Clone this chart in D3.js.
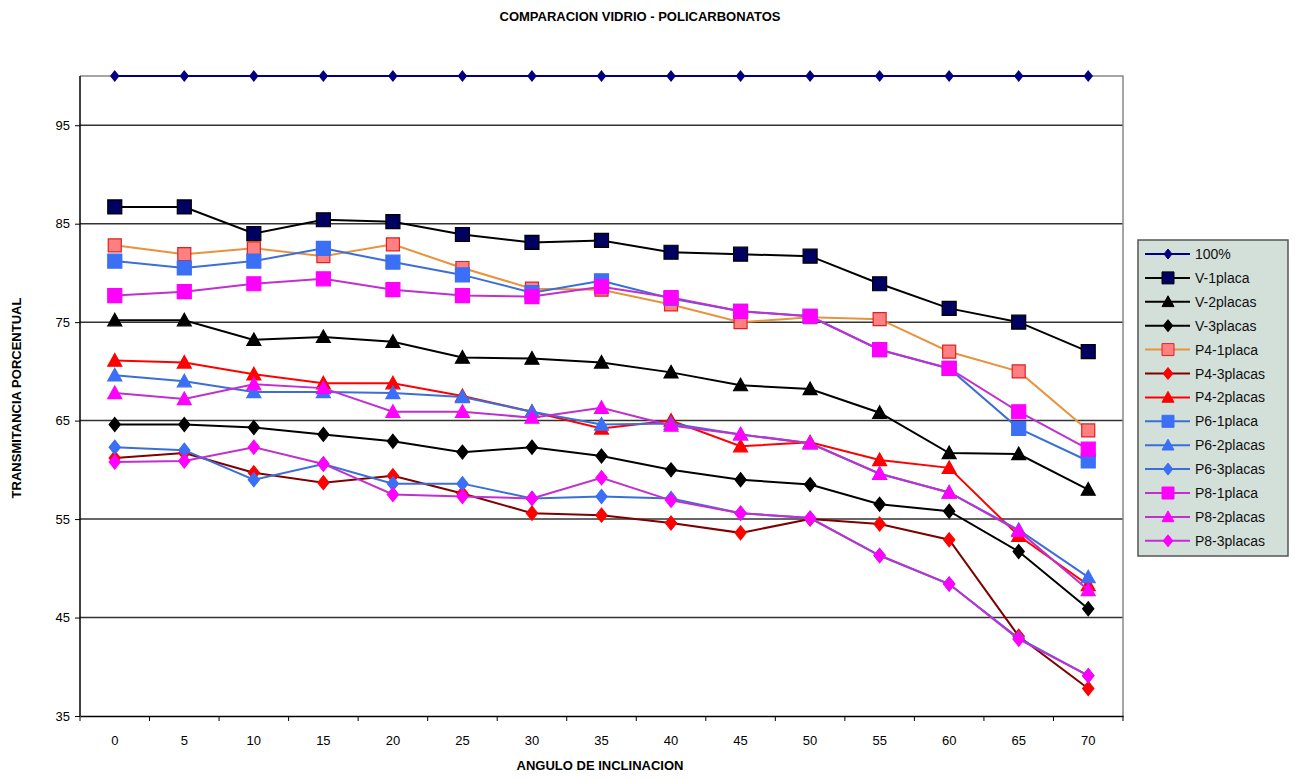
<!DOCTYPE html>
<html>
<head>
<meta charset="utf-8">
<script src="https://cdn.jsdelivr.net/npm/d3@7"></script>
<style>
  body { margin: 0; background: #fff; }
  text { font-family: "Liberation Sans", Arial, sans-serif; }
</style>
</head>
<body>
<script>
  // Angles (x categories)
  const angles = [0, 5, 10, 15, 20, 25, 30, 35, 40, 45, 50, 55, 60, 65, 70];
  const yTicks = [35, 45, 55, 65, 75, 85, 95];

  // Series values
  const s100 = [100, 100, 100, 100, 100, 100, 100, 100, 100, 100, 100, 100, 100, 100, 100];
  const v1 = [86.7, 86.7, 84.0, 85.4, 85.2, 83.9, 83.1, 83.3, 82.1, 81.9, 81.7, 78.9, 76.4, 75.0, 72.0];
  const v2 = [75.2, 75.2, 73.2, 73.5, 73.0, 71.4, 71.3, 70.9, 69.9, 68.6, 68.2, 65.8, 61.7, 61.6, 58.0];
  const v3 = [64.6, 64.6, 64.3, 63.6, 62.9, 61.8, 62.3, 61.4, 60.0, 59.0, 58.5, 56.5, 55.8, 51.7, 45.9];
  const p41 = [82.8, 81.9, 82.5, 81.7, 82.9, 80.5, 78.4, 78.3, 76.8, 75.0, 75.5, 75.3, 72.0, 70.0, 64.0];
  const p43 = [61.2, 61.7, 59.7, 58.7, 59.4, 57.6, 55.6, 55.4, 54.6, 53.6, 55.0, 54.5, 52.9, 43.1, 37.8];
  const p42 = [71.1, 70.9, 69.7, 68.8, 68.8, 67.5, 65.9, 64.2, 65.0, 62.4, 62.8, 61.0, 60.2, 53.3, 48.3];
  const p61 = [81.2, 80.5, 81.2, 82.5, 81.1, 79.8, 78.0, 79.2, 77.4, 76.1, 75.6, 72.2, 70.3, 64.2, 60.9];
  const p62 = [69.6, 69.0, 67.9, 67.9, 67.8, 67.4, 65.9, 64.6, 64.7, 63.6, 62.7, 59.6, 57.7, 53.9, 49.1];
  const p63 = [62.3, 62.0, 59.0, 60.6, 58.6, 58.6, 57.1, 57.3, 57.1, 55.6, 55.1, 51.3, 48.4, 42.9, 39.1];
  const p81 = [77.7, 78.1, 78.9, 79.4, 78.3, 77.7, 77.6, 78.6, 77.5, 76.1, 75.6, 72.2, 70.3, 65.9, 62.1];
  const p82 = [67.8, 67.2, 68.7, 68.3, 65.9, 65.9, 65.3, 66.3, 64.5, 63.6, 62.7, 59.6, 57.7, 53.8, 47.8];
  const p83 = [60.8, 60.9, 62.3, 60.6, 57.5, 57.3, 57.1, 59.2, 56.9, 55.6, 55.1, 51.3, 48.4, 42.8, 39.1];

  const series = [
    { name: "100%", values: s100, line: "#000080", fill: "#000080", stroke: "#000080", shape: "diamond", size: 10 },
    { name: "V-1placa", values: v1, line: "#000000", fill: "#000060", stroke: "#000000", shape: "square", size: 14 },
    { name: "V-2placas", values: v2, line: "#000000", fill: "#000000", stroke: "#000000", shape: "triangle", size: 14 },
    { name: "V-3placas", values: v3, line: "#000000", fill: "#000000", stroke: "#000000", shape: "diamond", size: 14 },
    { name: "P4-1placa", values: p41, line: "#e8923c", fill: "#ff8080", stroke: "#e02020", shape: "square", size: 13 },
    { name: "P4-3placas", values: p43, line: "#800000", fill: "#ff0000", stroke: "#ff0000", shape: "diamond", size: 14 },
    { name: "P4-2placas", values: p42, line: "#ff0000", fill: "#ff0000", stroke: "#ff0000", shape: "triangle", size: 14 },
    { name: "P6-1placa", values: p61, line: "#3a6fd8", fill: "#3b6ff5", stroke: "#3b6ff5", shape: "square", size: 14 },
    { name: "P6-2placas", values: p62, line: "#3a6fd8", fill: "#3b6ff5", stroke: "#3b6ff5", shape: "triangle", size: 14 },
    { name: "P6-3placas", values: p63, line: "#3a6fd8", fill: "#3b6ff5", stroke: "#3b6ff5", shape: "diamond", size: 14 },
    { name: "P8-1placa", values: p81, line: "#c030d0", fill: "#ff00ff", stroke: "#ff00ff", shape: "square", size: 14 },
    { name: "P8-2placas", values: p82, line: "#c030d0", fill: "#ff00ff", stroke: "#ff00ff", shape: "triangle", size: 14 },
    { name: "P8-3placas", values: p83, line: "#c030d0", fill: "#ff00ff", stroke: "#ff00ff", shape: "diamond", size: 14 },
  ];

  const width = 1295, height = 778;
  const margin = { left: 80, right: 172, top: 76, bottom: 62 };

  const svg = d3.select("body").append("svg")
    .attr("width", width)
    .attr("height", height);

  const x = d3.scaleBand()
    .domain(angles)
    .range([margin.left, width - margin.right])
    .padding(0);

  const y = d3.scaleLinear()
    .domain([35, 100])
    .range([height - margin.bottom, margin.top]);

  // Gridlines
  svg.append("g").selectAll("line")
    .data(yTicks.slice(1))
    .enter().append("line")
    .attr("x1", margin.left).attr("x2", width - margin.right)
    .attr("y1", d => y(d)).attr("y2", d => y(d))
    .attr("stroke", "#333").attr("stroke-width", 1.5);

  // Plot border (top + right)
  svg.append("path")
    .attr("d", `M${margin.left},${y(100)}H${width - margin.right}V${y(35)}`)
    .attr("fill", "none").attr("stroke", "#888").attr("stroke-width", 1.5);

  // Y axis
  const yAxis = svg.append("g")
    .attr("transform", `translate(${margin.left},0)`)
    .call(d3.axisLeft(y).tickValues(yTicks).tickSize(5).tickSizeOuter(0));
  yAxis.select(".domain").attr("stroke", "#000").attr("stroke-width", 1.5)
    .attr("d", `M0,${y(100)}V${y(35)}`);
  yAxis.selectAll(".tick line").attr("stroke", "#000");
  yAxis.selectAll("text").attr("font-size", 13).attr("x", -10).attr("fill", "#000");

  // X axis, ticks between categories
  const xAxis = svg.append("g")
    .attr("transform", `translate(0,${y(35)})`)
    .call(d3.axisBottom(x).tickSize(0).tickPadding(20));
  xAxis.select(".domain").attr("stroke", "#000").attr("stroke-width", 1.5);
  xAxis.selectAll("text").attr("font-size", 13).attr("fill", "#000");
  xAxis.selectAll("line.sep")
    .data(d3.range(angles.length + 1))
    .enter().append("line")
    .attr("class", "sep")
    .attr("x1", i => margin.left + i * x.step()).attr("x2", i => margin.left + i * x.step())
    .attr("y1", 0).attr("y2", 5)
    .attr("stroke", "#000");

  // Titles
  svg.append("text")
    .attr("x", 640).attr("y", 21)
    .attr("text-anchor", "middle")
    .attr("font-size", 13).attr("font-weight", "bold")
    .text("COMPARACION VIDRIO - POLICARBONATOS");

  svg.append("text")
    .attr("x", 600).attr("y", 770)
    .attr("text-anchor", "middle")
    .attr("font-size", 13).attr("font-weight", "bold")
    .text("ANGULO DE INCLINACION");

  svg.append("text")
    .attr("transform", "translate(21,398) rotate(-90)")
    .attr("text-anchor", "middle")
    .attr("font-size", 13).attr("font-weight", "bold")
    .text("TRANSMITANCIA PORCENTUAL");

  function shapePath(shape, s) {
    const h = s / 2;
    if (shape === "square") return `M${-h},${-h}H${h}V${h}H${-h}Z`;
    if (shape === "triangle") return `M0,${-h}L${h},${h * 0.8}H${-h}Z`;
    return `M0,${-h}L${h * 0.8},0L0,${h}L${-h * 0.8},0Z`;
  }

  const line = d3.line()
    .x((d, i) => x(angles[i]) + x.bandwidth() / 2)
    .y(d => y(d));

  // Later series are drawn on top, as in the original
  series.forEach(s => {
    const g = svg.append("g");
    g.append("path")
      .attr("d", line(s.values))
      .attr("fill", "none")
      .attr("stroke", s.line)
      .attr("stroke-width", 2);
    g.selectAll("path.m")
      .data(s.values)
      .enter().append("path")
      .attr("class", "m")
      .attr("transform", (d, i) => `translate(${x(angles[i]) + x.bandwidth() / 2},${y(d)})`)
      .attr("d", shapePath(s.shape, s.size))
      .attr("fill", s.fill)
      .attr("stroke", s.stroke)
      .attr("stroke-width", 1.2);
  });

  // Legend
  const lg = svg.append("g").attr("transform", "translate(1138,240)");
  lg.append("rect")
    .attr("width", 150).attr("height", 316)
    .attr("fill", "#d3e0da").attr("stroke", "#555").attr("stroke-width", 1.5);

  const item = lg.selectAll("g.item")
    .data(series)
    .enter().append("g")
    .attr("class", "item")
    .attr("transform", (d, i) => `translate(0,${14 + i * 23.9})`);

  item.append("line")
    .attr("x1", 7).attr("x2", 52)
    .attr("stroke", d => d.line).attr("stroke-width", 2);
  item.append("path")
    .attr("transform", "translate(30,0)")
    .attr("d", d => shapePath(d.shape, Math.min(d.size, 12)))
    .attr("fill", d => d.fill)
    .attr("stroke", d => d.stroke)
    .attr("stroke-width", 1);
  item.append("text")
    .attr("x", 57).attr("y", 5)
    .attr("font-size", 14)
    .attr("fill", "#111")
    .text(d => d.name);
</script>
</body>
</html>
